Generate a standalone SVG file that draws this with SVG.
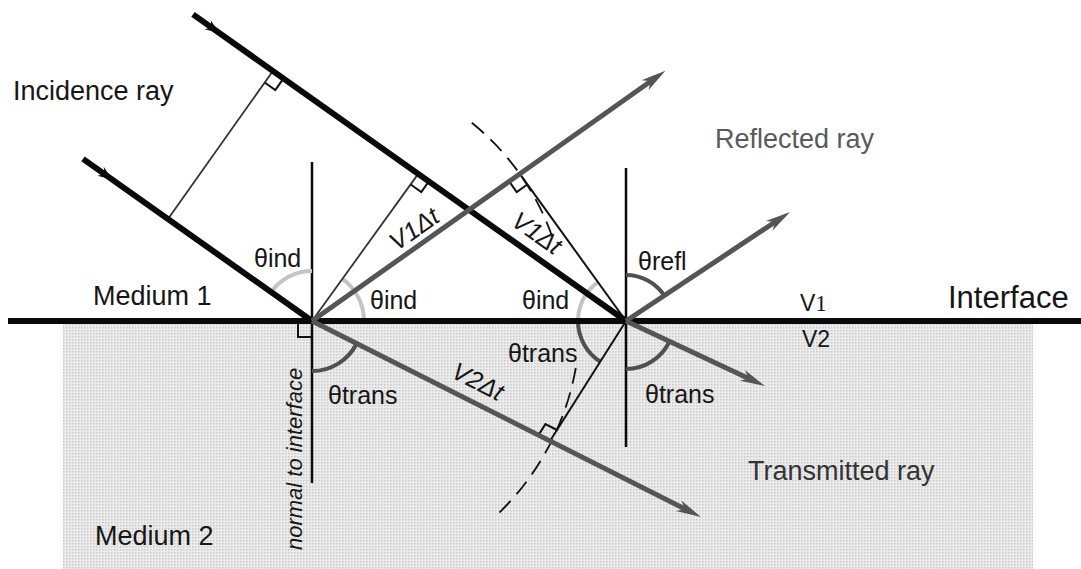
<svg xmlns="http://www.w3.org/2000/svg" xmlns:xlink="http://www.w3.org/1999/xlink" width="1081" height="569" viewBox="0 0 1081 569">
  <style>
    text { font-family: "Liberation Sans", Arial, Helvetica, sans-serif; fill: #161616; }
    .lbl { font-size: 27px; }
    .ang { font-size: 25px; }
    .vel { font-size: 25px; font-style: italic; }
    .thick { stroke: #0a0a0a; stroke-width: 6; fill: none; stroke-linecap: butt; }
    .gray { stroke: #555; stroke-width: 5; fill: none; }
    .normal { stroke: #0a0a0a; stroke-width: 2.5; fill: none; }
    .thin { stroke: #333; stroke-width: 1.8; fill: none; }
    .thinb { stroke: #111; stroke-width: 2; fill: none; }
    .dash { stroke: #111; stroke-width: 1.8; fill: none; stroke-dasharray: 16 9; }
    .rt { stroke: #111; stroke-width: 2; fill: none; }
    .arcL { stroke: #c4c4c4; stroke-width: 4; fill: none; }
    .arcD { stroke: #505050; stroke-width: 4; fill: none; }
  </style>
  <defs>
    <pattern id="dots" width="3" height="3" patternUnits="userSpaceOnUse">
      <rect width="3" height="3" fill="#ececec"/>
      <rect width="1.5" height="1.5" fill="#c9c9c9"/>
    </pattern>
    <marker id="ah" markerUnits="userSpaceOnUse" markerWidth="30" markerHeight="16" viewBox="-8 -8 30 16" refX="0" refY="0" orient="auto" overflow="visible">
      <path d="M18,0 L-7,-6 L0,0 L-7,6 Z" fill="#555"/>
    </marker>
    <path id="tick" d="M0,0 L-14,-5.5 L-9,0 L-14,5.5 Z" fill="#0a0a0a"/>
  </defs>

  <rect width="1081" height="569" fill="#ffffff"/>

  <!-- Medium 2 shading -->
  <g id="medium2-area">
    <rect x="63" y="321" width="970" height="248" fill="url(#dots)"/>
  </g>

  <!-- normals -->
  <g id="normals">
    <line class="normal" x1="312" y1="162" x2="312" y2="483"/>
    <line class="normal" x1="626" y1="168" x2="626" y2="447"/>
  </g>

  <!-- angle arcs -->
  <g id="angle-arcs">
    <path class="arcL" d="M312,271 A50,50 0 0 0 271.2,292.1"/>
    <path class="arcL" d="M364,321 A52,52 0 0 0 342.1,278.6"/>
    <path class="arcL" d="M578,321 A48,48 0 0 1 598.3,281.8"/>
    <path class="arcD" d="M578,321 A48,48 0 0 0 600.3,361.6"/>
    <path class="arcD" d="M626,275 A46,46 0 0 1 664.3,295.5"/>
    <path class="arcD" d="M312,371 A50,50 0 0 0 356.7,343.5"/>
    <path class="arcD" d="M626,369 A48,48 0 0 0 669.5,341.4"/>
  </g>

  <!-- wavefront construction -->
  <g id="wavefronts">
    <line class="thin" x1="168" y1="219" x2="272.2" y2="71.9"/>
    <line class="thin" x1="312" y1="321" x2="418.2" y2="173.9"/>
    <line class="thinb" x1="626" y1="321" x2="519.8" y2="173.9"/>
    <line class="thinb" x1="626" y1="321" x2="550" y2="441"/>
    <path class="dash" d="M471.8,122.8 A254.6,254.6 0 0 1 554.4,243.2"/>
    <path class="dash" d="M575.8,368 A268,268 0 0 1 495.1,516.7"/>
  </g>

  <!-- right-angle marks -->
  <g id="right-angles">
    <polyline class="rt" points="282.8,79.4 275.3,90.0 264.7,82.5"/>
    <polyline class="rt" points="428.8,181.4 421.3,192.0 410.7,184.5"/>
    <polyline class="rt" points="509.2,181.4 516.7,192.0 527.3,184.5"/>
    <polyline class="rt" points="557,430 545.4,424.1 538.4,435.1"/>
    <polyline class="rt" points="298,323 298,337 312,337"/>
  </g>

  <!-- interface -->
  <g id="interface">
    <line x1="8" y1="321" x2="1081" y2="321" stroke="#0a0a0a" stroke-width="6"/>
  </g>

  <!-- rays (connectors) -->
  <g id="connectors">
    <line id="incident-lower" class="thick" x1="83" y1="158.9" x2="312" y2="321"/>
    <line id="incident-upper" class="thick" x1="193" y1="14.4" x2="626" y2="321"/>
    <use xlink:href="#tick" href="#tick" transform="translate(219,32.8) rotate(35.3)"/>
    <use xlink:href="#tick" href="#tick" transform="translate(112,179.4) rotate(35.3)"/>
    <line id="reflected-A" class="gray" x1="312" y1="321" x2="650.7" y2="81.2" marker-end="url(#ah)"/>
    <line id="reflected-B" class="gray" x1="626" y1="321" x2="775" y2="222" marker-end="url(#ah)"/>
    <line id="transmitted-A" class="gray" x1="312" y1="321" x2="684.9" y2="508.9" marker-end="url(#ah)"/>
    <line id="transmitted-B" class="gray" x1="626" y1="321" x2="748.7" y2="378.4" marker-end="url(#ah)"/>
  </g>

  <!-- labels -->
  <g id="labels">
    <text class="lbl" x="13" y="100">Incidence ray</text>
    <text class="lbl" x="93" y="305">Medium 1</text>
    <text class="lbl" x="95" y="545">Medium 2</text>
    <text class="lbl" x="715" y="148" style="fill:#5a5a5a">Reflected ray</text>
    <text class="lbl" x="748" y="480" style="fill:#333">Transmitted ray</text>
    <text x="948" y="308" style="font-size:31px">Interface</text>
    <text x="800" y="311" style="font-size:23px">V<tspan style="font-family:'Liberation Serif','Times New Roman',serif">1</tspan></text>
    <text x="802" y="347" style="font-size:23px">V2</text>
    <text class="ang" x="254" y="267">θind</text>
    <text class="ang" x="370" y="309">θind</text>
    <text class="ang" x="522" y="309">θind</text>
    <text class="ang" x="638" y="270">θrefl</text>
    <text class="ang" x="508" y="362">θtrans</text>
    <text class="ang" x="645" y="403">θtrans</text>
    <text class="ang" x="328" y="404">θtrans</text>
    <text transform="translate(302,550) rotate(-90)" style="font-size:22px;font-style:italic">normal to interface</text>
    <text class="vel" text-anchor="middle" transform="translate(419,236) rotate(-35)">V1Δt</text>
    <text class="vel" text-anchor="middle" transform="translate(532,240) rotate(35)">V1Δt</text>
    <text class="vel" text-anchor="middle" transform="translate(474,389) rotate(27)">V2Δt</text>
  </g>
</svg>
